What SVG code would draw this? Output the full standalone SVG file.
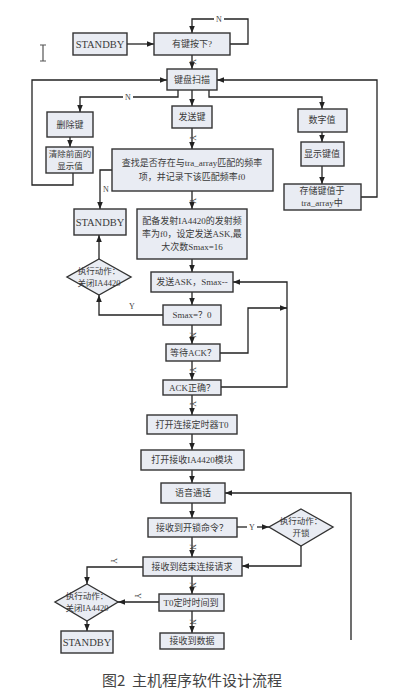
<svg xmlns="http://www.w3.org/2000/svg" width="417" height="700" viewBox="0 0 417 700">
<defs>
<marker id="ah" viewBox="0 0 10 10" refX="10" refY="5" markerWidth="7" markerHeight="7" markerUnits="userSpaceOnUse" orient="auto"><path d="M0,1 L10,5 L0,9 z" fill="#222"/></marker>
</defs>
<style>
.b{fill:#e9ecf3;stroke:#333;stroke-width:1.4}
.t{font-family:"Liberation Serif","Noto Sans CJK SC",serif;font-size:9px;fill:#3a3a3a;text-anchor:middle;dominant-baseline:central}
.s{font-family:"Liberation Serif","Noto Sans CJK SC",serif;font-size:8px;fill:#444;text-anchor:middle;dominant-baseline:central}
.c path{fill:none;stroke:#222;stroke-width:1.3;marker-end:url(#ah)}
.cap{font-family:"Noto Sans CJK SC",sans-serif;font-size:15px;fill:#444;text-anchor:middle;dominant-baseline:central}
.d{font-size:8.5px}
</style>
<rect width="417" height="700" fill="#fff"/>
<path d="M40,45 H46 M43,45 V61 M40,61 H46" stroke="#555" stroke-width="1.2" fill="none"/>
<g class="c">
<path d="M127,44 H154"/>
<path d="M230,44 H248 V19 H192 V33"/>
<path d="M192,55 V69"/>
<path d="M73,173 V185 H32 V80 H167"/>
<path d="M361,197 H377 V80 H217"/>
<path d="M178,90 V97 H80 V112"/>
<path d="M192,90 V106"/>
<path d="M209,90 V97 H322 V109"/>
<path d="M70,137 V147"/>
<path d="M192,128 V149"/>
<path d="M322,132 V142"/>
<path d="M322,166 V184"/>
<path d="M112,170 H100 V209"/>
<path d="M192,191 V209"/>
<path d="M192,259 V272"/>
<path d="M99,259 V235"/>
<path d="M163,315 H99 V295"/>
<path d="M192,292 V305"/>
<path d="M192,325 V344"/>
<path d="M220,353 H248 V308 H287"/>
<path d="M221,387 H287 V282 H233"/>
<path d="M192,361 V380"/>
<path d="M192,395 V415"/>
<path d="M192,434 V450"/>
<path d="M192,470 V483"/>
<path d="M351,640 V493 H225"/>
<path d="M192,503 V518"/>
<path d="M237,527 H269"/>
<path d="M301,546 V566 H242"/>
<path d="M192,537 V557"/>
<path d="M143,567 H87 V584"/>
<path d="M192,576 V594"/>
<path d="M159,602 H118"/>
<path d="M192,611 V633"/>
<path d="M87,621 V631"/>
</g>
<g id="labels">
<rect x="214" y="14" width="10" height="10" fill="#fff"/><text class="s" x="219" y="19">N</text>
<rect x="123" y="93" width="10" height="9" fill="#fff"/><text class="s" x="128" y="97">N</text>
<text class="s" x="106" y="189">N</text>
<text class="s" x="132" y="306">Y</text>
<rect x="247" y="522" width="10" height="10" fill="#fff"/><text class="s" x="252" y="527">Y</text>
<text class="s" x="113" y="561" transform="rotate(90 113 561)">Y</text>
<text class="s" x="137" y="596" transform="rotate(90 137 596)">Y</text>
<text class="s" x="192" y="62" transform="rotate(90 192 62)">Y</text>
<text class="s" x="192" y="138" transform="rotate(90 192 138)">Y</text>
<text class="s" x="192" y="201" transform="rotate(90 192 201)">Y</text>
<text class="s" x="192" y="335" transform="rotate(90 192 335)">N</text>
<text class="s" x="192" y="370" transform="rotate(90 192 370)">Y</text>
<text class="s" x="192" y="404" transform="rotate(90 192 404)">Y</text>
<text class="s" x="192" y="547" transform="rotate(90 192 547)">N</text>
<text class="s" x="192" y="585" transform="rotate(90 192 585)">N</text>
<text class="s" x="192" y="622" transform="rotate(90 192 622)">N</text>
</g>
<g id="standby1"><rect class="b" x="73" y="33" width="54" height="22"/><text class="t" x="100" y="44" style="font-size:10.5px">STANDBY</text></g>
<g id="keypress"><rect class="b" x="154" y="33" width="76" height="22"/><text class="t" x="192" y="44">有键按下?</text></g>
<g id="scan"><rect class="b" x="167" y="69" width="50" height="21"/><text class="t" x="192" y="80">键盘扫描</text></g>
<g id="del"><rect class="b" x="47" y="112" width="46" height="25"/><text class="t" x="70" y="125">删除键</text></g>
<g id="send"><rect class="b" x="172" y="106" width="40" height="22"/><text class="t" x="192" y="117">发送键</text></g>
<g id="digit"><rect class="b" x="298" y="109" width="49" height="23"/><text class="t" x="322" y="120">数字值</text></g>
<g id="clear"><rect class="b" x="46" y="147" width="47" height="26"/><text class="t d" x="70" y="154">清除前面的</text><text class="t d" x="70" y="166">显示值</text></g>
<g id="show"><rect class="b" x="301" y="142" width="43" height="24"/><text class="t" x="322" y="154">显示键值</text></g>
<g id="store"><rect class="b" x="284" y="184" width="77" height="26"/><text class="t" x="322" y="191">存储键值于</text><text class="t" x="322" y="203">tra_array中</text></g>
<g id="find"><rect class="b" x="112" y="149" width="161" height="42"/><text class="t" x="192" y="163">查找是否存在与tra_array匹配的频率</text><text class="t" x="192" y="177">项，并记录下该匹配频率f0</text></g>
<g id="standby2"><rect class="b" x="74" y="209" width="52" height="26"/><text class="t" x="100" y="222" style="font-size:10.5px">STANDBY</text></g>
<g id="config"><rect class="b" x="137" y="209" width="110" height="50"/><text class="t" x="192" y="221">配备发射IA4420的发射频</text><text class="t" x="192" y="234">率为f0，设定发送ASK,最</text><text class="t" x="192" y="247">大次数Smax=16</text></g>
<g id="close1"><path class="b" d="M99,259 L131,277 L99,295 L67,277 Z"/><text class="t d" x="99" y="271">执行动作：</text><text class="t d" x="99" y="283">关闭IA4420</text></g>
<g id="sendask"><rect class="b" x="151" y="272" width="82" height="20"/><text class="t" x="192" y="282">发送ASK，Smax--</text></g>
<g id="smax"><rect class="b" x="163" y="305" width="58" height="20"/><text class="t" x="192" y="315">Smax=？0</text></g>
<g id="wait"><rect class="b" x="166" y="344" width="54" height="17"/><text class="t" x="193" y="352.5">等待ACK？</text></g>
<g id="ackok"><rect class="b" x="163" y="380" width="58" height="15"/><text class="t" x="192" y="387.5">ACK正确？</text></g>
<g id="timer"><rect class="b" x="147" y="415" width="90" height="19"/><text class="t" x="192" y="424.5">打开连接定时器T0</text></g>
<g id="recv"><rect class="b" x="141" y="450" width="103" height="20"/><text class="t" x="192" y="460">打开接收IA4420模块</text></g>
<g id="voice"><rect class="b" x="161" y="483" width="64" height="20"/><text class="t" x="193" y="493">语音通话</text></g>
<g id="unlockcmd"><rect class="b" x="148" y="518" width="89" height="19"/><text class="t" x="192" y="527.5">接收到开锁命令？</text></g>
<g id="unlock"><path class="b" d="M301,509 L333,527 L301,546 L269,527 Z"/><text class="t d" x="301" y="521">执行动作：</text><text class="t d" x="301" y="533">开锁</text></g>
<g id="endreq"><rect class="b" x="143" y="557" width="99" height="19"/><text class="t" x="192" y="566.5">接收到结束连接请求</text></g>
<g id="close2"><path class="b" d="M87,584 L118,602 L87,621 L55,602 Z"/><text class="t d" x="87" y="596">执行动作：</text><text class="t d" x="87" y="608">关闭IA4420</text></g>
<g id="t0"><rect class="b" x="159" y="594" width="65" height="17"/><text class="t" x="191" y="602.5">T0定时时间到</text></g>
<g id="data"><rect class="b" x="160" y="633" width="64" height="16"/><text class="t" x="192" y="641">接收到数据</text></g>
<g id="standby3"><rect class="b" x="61" y="631" width="52" height="22"/><text class="t" x="87" y="642" style="font-size:10.5px">STANDBY</text></g>
<text class="cap" x="192" y="679" xml:space="preserve">图2  主机程序软件设计流程</text>
</svg>
